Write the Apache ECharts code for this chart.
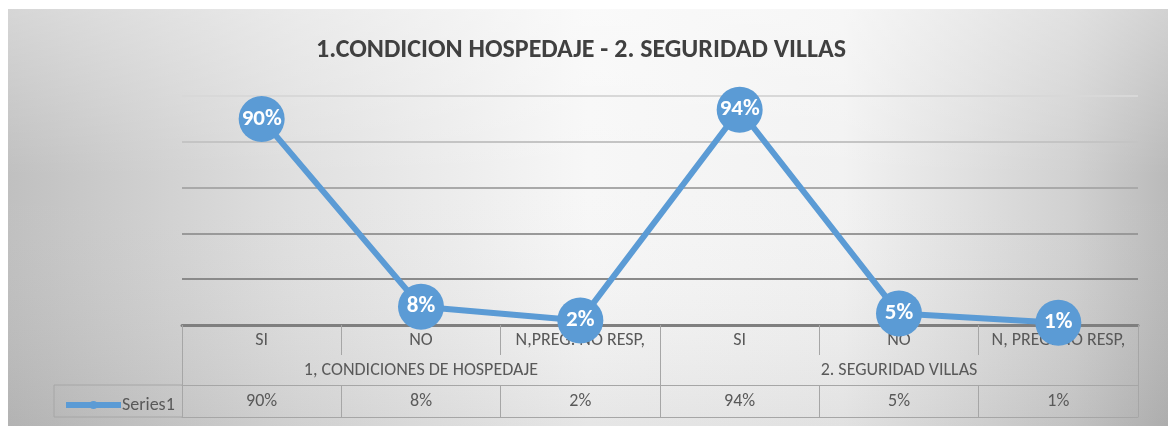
<!DOCTYPE html>
<html>
<head>
<meta charset="utf-8">
<script src="https://cdn.jsdelivr.net/npm/echarts@6/dist/echarts.min.js"></script>
<style>
html,body{margin:0;padding:0;background:#fff;}
#chart{width:1168px;height:426px;}
</style>
</head>
<body>
<div id="chart"></div>
<script>
const titleText = '1.CONDICION HOSPEDAJE - 2. SEGURIDAD VILLAS';
const categories = ['SI', 'NO', 'N,PREG. NO RESP,', 'SI', 'NO', 'N, PREG. NO RESP,'];
const groups = ['1, CONDICIONES DE HOSPEDAJE', '2. SEGURIDAD VILLAS'];
const seriesName = 'Series1';
const values = [90, 8, 2, 94, 5, 1];
const yTicks = [0, 20, 40, 60, 80, 100];

const FONT = 'Carlito, Lato, "Open Sans", sans-serif';
const BLUE = '#5b9bd5';
const TABLE = '#a6a6a6';
const TEXT = '#595959';

const chart = echarts.init(document.getElementById('chart'), null, {renderer: 'canvas'});
const option = {
  animation: false,
  textStyle: {fontFamily: FONT},
  title: {
    text: titleText,
    left: 576, top: 32, textAlign: 'center',
    textStyle: {fontFamily: FONT, fontSize: 26, fontWeight: 'bold', color: '#404040'}
  },
  legend: {
    data: [seriesName],
    left: 58, top: 391,
    itemWidth: 55, itemHeight: 10,
    lineStyle: {width: 6, color: BLUE},
    itemStyle: {color: BLUE},
    textStyle: {fontFamily: FONT, fontSize: 18, color: TEXT, padding: [0,0,0,-4]}
  },
  graphic: [
    {type: 'rect', z: -10, silent: true, shape: {x: 8, y: 9, width: 1160, height: 417},
     style: {fill: new echarts.graphic.LinearGradient(0, 0, 1, 0, [
       {offset: 0, color: '#c0c0c0'}, {offset: 0.25, color: '#e0e0e0'},
       {offset: 0.5, color: '#f7f7f7'}, {offset: 0.72, color: '#f2f2f2'},
       {offset: 0.92, color: '#d0d0d0'}, {offset: 1, color: '#bababa'}])}},
    {type: 'rect', z: -9, silent: true, shape: {x: 8, y: 9, width: 1160, height: 417},
     style: {fill: new echarts.graphic.LinearGradient(0, 0, 0, 1, [
       {offset: 0, color: 'rgba(255,255,255,0.35)'}, {offset: 0.4, color: 'rgba(255,255,255,0)'},
       {offset: 1, color: 'rgba(0,0,0,0.07)'}])}},
    {type: 'line', z: 1, silent: true, shape: {x1: 54, y1: 385, x2: 182, y2: 385}, style: {stroke: TABLE, lineWidth: 1}},
    {type: 'line', z: 1, silent: true, shape: {x1: 54, y1: 417, x2: 182, y2: 417}, style: {stroke: TABLE, lineWidth: 1}},
    {type: 'line', z: 1, silent: true, shape: {x1: 54, y1: 385, x2: 54, y2: 417}, style: {stroke: TABLE, lineWidth: 1}}
  ],
  grid: {left: 182, right: 30, top: 96, bottom: 101, containLabel: false},
  xAxis: [
    {
      type: 'category', data: categories, position: 'bottom', boundaryGap: true,
      axisLine: {show: true, lineStyle: {color: '#7f7f7f', width: 3}},
      axisTick: {show: true, interval: 0, length: 30, lineStyle: {color: TABLE}},
      axisLabel: {interval: 0, margin: 6, fontFamily: FONT, fontSize: 18, color: TEXT}
    },
    {
      type: 'category', data: groups, position: 'bottom', offset: 30, boundaryGap: true,
      axisLine: {show: false},
      axisTick: {show: true, interval: 0, length: 30, lineStyle: {color: TABLE}},
      axisLabel: {interval: 0, margin: 6, fontFamily: FONT, fontSize: 18, color: TEXT}
    },
    {
      type: 'category', data: values.map(v => v + '%'), position: 'bottom', offset: 60, boundaryGap: true,
      axisLine: {show: true, lineStyle: {color: TABLE, width: 1}},
      axisTick: {show: true, interval: 0, length: 32, lineStyle: {color: TABLE}},
      axisLabel: {interval: 0, margin: 7, fontFamily: FONT, fontSize: 18, color: TEXT}
    },
    {
      type: 'category', data: categories, position: 'bottom', offset: 92, boundaryGap: true,
      axisLine: {show: true, lineStyle: {color: TABLE, width: 1}},
      axisTick: {show: false}, axisLabel: {show: false}
    }
  ],
  yAxis: {
    type: 'value', min: yTicks[0], max: yTicks[yTicks.length - 1], interval: 20,
    axisLine: {show: false}, axisTick: {show: false}, axisLabel: {show: false},
    splitLine: {show: true, lineStyle: {width: 2, color: ['#808080', '#8a8a8a', '#999999', '#a9a9a9', '#c4c4c4', '#d8d8d8']}}
  },
  series: [{
    name: seriesName, type: 'line', data: values, xAxisIndex: 0,
    symbol: 'circle', symbolSize: 46,
    lineStyle: {color: BLUE, width: 6},
    itemStyle: {color: BLUE},
    label: {show: true, position: 'inside', formatter: p => p.value + '%',
      fontFamily: FONT, fontSize: 23, fontWeight: 'bold', color: '#ffffff'},
    z: 5
  }]
};
chart.setOption(option);
</script>
</body>
</html>
